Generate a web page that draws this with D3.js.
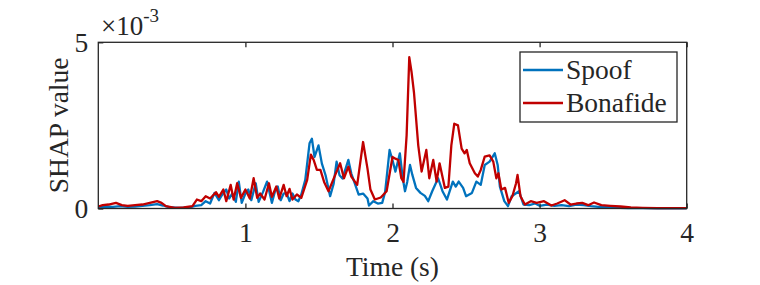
<!DOCTYPE html>
<html>
<head>
<meta charset="utf-8">
<script src="https://cdn.jsdelivr.net/npm/d3@7/dist/d3.min.js"></script>
<style>
  body { margin: 0; background: #fff; }
  svg text { font-family: "Liberation Serif", "Times New Roman", serif; fill: #262626; }
</style>
</head>
<body>
<div class="chart"></div>
<script>
// SHAP values (x 1e-3) over time
var spoofTime = [0.00, 0.05, 0.10, 0.15, 0.20, 0.25, 0.30, 0.35, 0.40, 0.44, 0.48, 0.55, 0.62, 0.66, 0.70,
  0.73, 0.76, 0.79, 0.82, 0.84, 0.87, 0.89, 0.91, 0.935, 0.955, 0.975, 1.00, 1.02, 1.04, 1.07, 1.09,
  1.12, 1.147, 1.18, 1.20, 1.22, 1.24, 1.26, 1.28, 1.30, 1.32, 1.34, 1.36, 1.38, 1.407, 1.436, 1.452,
  1.47, 1.497, 1.52, 1.545, 1.576, 1.60, 1.62, 1.64, 1.66, 1.70, 1.72, 1.74, 1.77, 1.80, 1.83, 1.84,
  1.87, 1.90, 1.93, 1.95, 1.98, 2.00, 2.02, 2.05, 2.07, 2.085, 2.10, 2.119, 2.135, 2.16, 2.19, 2.22,
  2.243, 2.27, 2.31, 2.34, 2.37, 2.41, 2.43, 2.45, 2.48, 2.50, 2.54, 2.57, 2.60, 2.627, 2.66, 2.695,
  2.715, 2.73, 2.76, 2.785, 2.81, 2.86, 2.89, 2.93, 2.97, 3.00, 3.05, 3.10, 3.15, 3.20, 3.25, 3.30,
  3.35, 3.40, 3.45, 3.50, 3.55, 3.60, 3.70, 3.80, 4.00];
var spoofValue = [0.03, 0.06, 0.05, 0.07, 0.05, 0.06, 0.08, 0.10, 0.13, 0.09, 0.04, 0.02, 0.03, 0.08, 0.10,
  0.22, 0.15, 0.47, 0.25, 0.40, 0.57, 0.30, 0.45, 0.20, 0.81, 0.17, 0.45, 0.57, 0.25, 0.76, 0.20,
  0.50, 0.81, 0.17, 0.50, 0.66, 0.25, 0.45, 0.47, 0.22, 0.45, 0.27, 0.22, 0.42, 0.86, 1.96, 2.10,
  1.55, 1.90, 1.35, 1.00, 0.37, 0.75, 1.41, 1.00, 0.90, 1.46, 1.05, 0.80, 0.42, 0.45, 0.30, 0.09,
  0.22, 0.15, 0.17, 0.50, 1.76, 1.45, 1.11, 1.66, 0.90, 0.52, 0.80, 1.31, 1.01, 0.62, 0.47, 0.38,
  0.22, 0.52, 0.91, 0.52, 0.27, 0.81, 0.66, 0.81, 0.62, 0.37, 0.47, 0.81, 0.71, 1.31, 1.41, 1.66,
  1.31, 0.66, 0.22, 0.07, 0.37, 0.52, 0.12, 0.10, 0.15, 0.08, 0.12, 0.08, 0.10, 0.07, 0.12, 0.10,
  0.07, 0.05, 0.06, 0.03, 0.02, 0.01, 0.01, 0.005, 0.005];

var bonafideTime = [0.00, 0.03, 0.07, 0.12, 0.16, 0.20, 0.25, 0.30, 0.35, 0.40, 0.43, 0.46, 0.52, 0.58, 0.64,
  0.67, 0.70, 0.73, 0.76, 0.80, 0.82, 0.85, 0.87, 0.90, 0.92, 0.944, 0.97, 1.00, 1.03, 1.056, 1.08,
  1.10, 1.13, 1.16, 1.18, 1.21, 1.23, 1.26, 1.28, 1.30, 1.32, 1.35, 1.38, 1.42, 1.445, 1.465, 1.486,
  1.51, 1.535, 1.565, 1.60, 1.644, 1.67, 1.70, 1.72, 1.76, 1.80, 1.83, 1.85, 1.88, 1.92, 1.96, 2.00,
  2.02, 2.04, 2.06, 2.075, 2.096, 2.114, 2.13, 2.146, 2.175, 2.198, 2.23, 2.25, 2.277, 2.30, 2.32, 2.356,
  2.38, 2.40, 2.42, 2.445, 2.47, 2.49, 2.505, 2.525, 2.56, 2.58, 2.60, 2.627, 2.66, 2.685, 2.706, 2.72,
  2.74, 2.765, 2.79, 2.815, 2.84, 2.85, 2.87, 2.90, 2.94, 2.98, 3.03, 3.08, 3.12, 3.17, 3.21, 3.25,
  3.29, 3.33, 3.37, 3.42, 3.48, 3.55, 3.62, 3.70, 3.80, 3.90, 4.00];
var bonafideValue = [0.06, 0.10, 0.12, 0.17, 0.10, 0.08, 0.10, 0.12, 0.17, 0.22, 0.17, 0.07, 0.02, 0.03, 0.07,
  0.27, 0.22, 0.37, 0.30, 0.49, 0.35, 0.57, 0.22, 0.71, 0.27, 0.76, 0.32, 0.57, 0.30, 0.91, 0.32,
  0.45, 0.27, 0.76, 0.35, 0.66, 0.30, 0.71, 0.37, 0.59, 0.27, 0.42, 0.32, 0.86, 1.62, 1.45, 1.16,
  1.16, 0.80, 0.52, 0.90, 1.36, 0.91, 1.26, 0.96, 0.71, 2.00, 1.20, 0.57, 0.27, 0.33, 0.52, 1.55,
  1.50, 1.46, 0.91, 0.80, 2.20, 4.55, 4.09, 3.49, 1.90, 1.11, 1.76, 0.91, 1.46, 0.81, 1.36, 0.62,
  0.66, 1.90, 2.55, 2.50, 1.80, 1.66, 1.76, 1.36, 1.06, 0.96, 1.16, 1.56, 1.60, 1.41, 0.91, 1.06,
  0.57, 0.62, 0.17, 0.37, 0.76, 1.01, 0.37, 0.12, 0.22, 0.17, 0.22, 0.09, 0.15, 0.25, 0.12, 0.15,
  0.17, 0.10, 0.18, 0.10, 0.08, 0.06, 0.03, 0.02, 0.01, 0.01, 0.01];

var xTicks = [1, 2, 3, 4];
var yTicks = [0, 5];
var seriesNames = ['Spoof', 'Bonafide'];
var seriesColors = ['#0072bd', '#c00000'];

var width = 760,
    height = 285,
    plotLeft = 98.3,
    plotRight = 686.7,
    plotTop = 42.3,
    plotBottom = 208.5,
    fontSize = 27.5;

var svg = d3.select('.chart').append('svg')
  .attr('width', width)
  .attr('height', height);

var x = d3.scaleLinear().domain([0, 4]).range([plotLeft, plotRight]);
var y = d3.scaleLinear().domain([0, 5]).range([plotBottom, plotTop]);

function toPoints(times, values) {
  return times.map(function(t, i) { return [t, values[i]]; });
}

var series = [
  toPoints(spoofTime, spoofValue),
  toPoints(bonafideTime, bonafideValue)
];

var line = d3.line()
  .x(function(d) { return x(d[0]); })
  .y(function(d) { return y(d[1]); });

svg.append('g').attr('class', 'lines')
  .selectAll('path')
  .data(series)
  .enter().append('path')
    .attr('d', line)
    .attr('fill', 'none')
    .attr('stroke', function(d, i) { return seriesColors[i]; })
    .attr('stroke-width', 2.3)
    .attr('stroke-linejoin', 'round');

// axes box with MATLAB-style inward ticks
var axisColor = '#262626';
svg.append('rect')
  .attr('x', plotLeft).attr('y', plotTop)
  .attr('width', plotRight - plotLeft).attr('height', plotBottom - plotTop)
  .attr('fill', 'none')
  .attr('stroke', axisColor)
  .attr('stroke-width', 1.3);

var xAxisBottom = d3.axisBottom(x).tickValues(xTicks).tickFormat(d3.format('d'))
  .tickSizeInner(-5).tickSizeOuter(0).tickPadding(14);
var gx = svg.append('g').attr('transform', 'translate(0,' + plotBottom + ')').call(xAxisBottom);
var xAxisTop = d3.axisTop(x).tickValues(xTicks).tickFormat('')
  .tickSizeInner(-5).tickSizeOuter(0);
var gxTop = svg.append('g').attr('transform', 'translate(0,' + plotTop + ')').call(xAxisTop);

var yAxis = d3.axisLeft(y).tickValues(yTicks).tickFormat(d3.format('d'))
  .tickSizeInner(-5).tickSizeOuter(0).tickPadding(10);
var gy = svg.append('g').attr('transform', 'translate(' + plotLeft + ',0)').call(yAxis);

[gx, gxTop, gy].forEach(function(g) {
  g.select('.domain').remove();
  g.selectAll('line').attr('stroke', axisColor).attr('stroke-width', 1.3);
  g.selectAll('text')
    .style('font-family', '"Liberation Serif", serif')
    .style('font-size', fontSize + 'px')
    .attr('fill', axisColor);
});

// exponent label
var expLabel = svg.append('text')
  .attr('x', 101)
  .attr('y', 35)
  .style('font-size', '27px');
expLabel.append('tspan').text('\u00d710');
expLabel.append('tspan').attr('dy', -13).style('font-size', '19px').text('-3');

svg.append('text')
  .attr('x', (plotLeft + plotRight) / 2)
  .attr('y', 276)
  .attr('text-anchor', 'middle')
  .style('font-size', fontSize + 'px')
  .text('Time (s)');

svg.append('text')
  .attr('transform', 'translate(68,' + ((plotTop + plotBottom) / 2) + ') rotate(-90)')
  .attr('text-anchor', 'middle')
  .style('font-size', fontSize + 'px')
  .text('SHAP value');

// legend
var legend = svg.append('g').attr('class', 'legend');
legend.append('rect')
  .attr('x', 520).attr('y', 52)
  .attr('width', 157).attr('height', 70)
  .attr('fill', '#fff')
  .attr('stroke', axisColor)
  .attr('stroke-width', 1.3);

var legendRows = legend.selectAll('.row')
  .data(seriesNames)
  .enter().append('g')
    .attr('class', 'row')
    .attr('transform', function(d, i) { return 'translate(0,' + (70 + i * 33) + ')'; });
legendRows.append('line')
  .attr('x1', 523).attr('x2', 563)
  .attr('stroke', function(d, i) { return seriesColors[i]; })
  .attr('stroke-width', 2.3);
legendRows.append('text')
  .attr('x', 566)
  .attr('dy', '0.33em')
  .style('font-size', fontSize + 'px')
  .text(function(d) { return d; });
</script>
</body>
</html>
